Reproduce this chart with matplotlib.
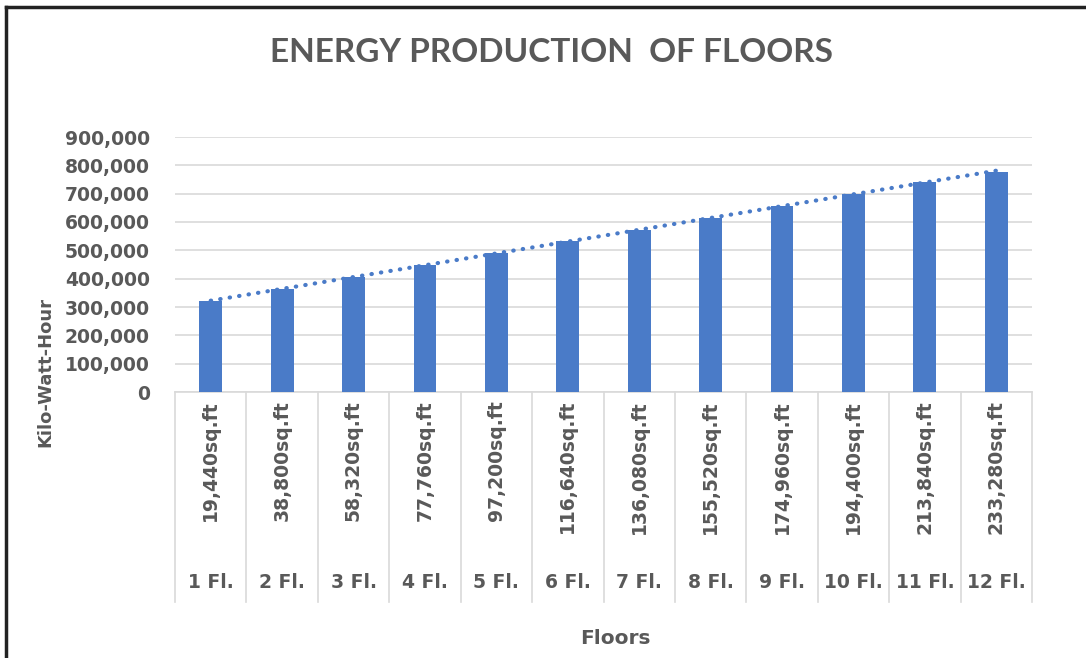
import numpy as np
import matplotlib
matplotlib.use('Agg')
import matplotlib.pyplot as plt

floors = ['1 Fl.', '2 Fl.', '3 Fl.', '4 Fl.', '5 Fl.', '6 Fl.',
          '7 Fl.', '8 Fl.', '9 Fl.', '10 Fl.', '11 Fl.', '12 Fl.']
areas = ['19,440sq.ft', '38,800sq.ft', '58,320sq.ft', '77,760sq.ft',
         '97,200sq.ft', '116,640sq.ft', '136,080sq.ft', '155,520sq.ft',
         '174,960sq.ft', '194,400sq.ft', '213,840sq.ft', '233,280sq.ft']
energy_kwh = [320000, 364000, 407000, 447000, 490000, 532000,
              573000, 614000, 657000, 699000, 740000, 778000]

blue = '#4A7BC8'
grey = '#595959'
grid_col = '#D9D9D9'

plt.rcParams['font.family'] = ['DejaVu Sans']

fig = plt.figure(figsize=(10.86, 6.58), dpi=100)
ax = fig.add_axes([175 / 1086, 1 - 392 / 658, (1032 - 175) / 1086, (392 - 137) / 658])

x = np.arange(1, len(floors) + 1)
ax.bar(x, energy_kwh, width=0.32, color=blue, zorder=3)

# linear trendline
m, c = np.polyfit(x, energy_kwh, 1)
ax.plot(x, m * x + c, linestyle=(0, (0.1, 2.2)), dash_capstyle='round',
        color=blue, linewidth=3, zorder=4)

ax.set_xlim(0.5, len(floors) + 0.5)
ax.set_ylim(0, 900000)
ax.set_yticks(np.arange(0, 900001, 100000))
ax.set_yticklabels([f'{int(v):,}' for v in ax.get_yticks()])
ax.tick_params(axis='y', length=0, labelsize=13.5, labelcolor=grey, pad=18)
for lbl in ax.get_yticklabels():
    lbl.set_fontweight('bold')
ax.set_xticks([])
ax.grid(axis='y', color=grid_col, linewidth=1.2, zorder=0)
for s in ax.spines.values():
    s.set_visible(False)

# multi-level category axis
tr = ax.get_xaxis_transform()
h = 392 - 137
ax.plot([0.5, len(floors) + 0.5], [0, 0], color=grid_col, lw=1.2,
        transform=tr, clip_on=False)
for b in np.arange(0.5, len(floors) + 1, 1):
    ax.plot([b, b], [0, -210 / h], color=grid_col, lw=1.2,
            transform=tr, clip_on=False)
for xi, a, f in zip(x, areas, floors):
    ax.text(xi, -8 / h, a, rotation=90, ha='center', va='top',
            transform=tr, fontsize=13.5, fontweight='bold', color=grey)
    ax.text(xi, -191 / h, f, ha='center', va='center',
            transform=tr, fontsize=13.5, fontweight='bold', color=grey)

fig.text(615 / 1086, 1 - 638 / 658, 'Floors', ha='center', va='center',
         fontsize=14.5, fontweight='bold', color=grey)
fig.text(45 / 1086, 1 - 372 / 658, 'Kilo-Watt-Hour', ha='center', va='center',
         rotation=90, fontsize=13, fontweight='bold', color=grey)
fig.text(551 / 1086, 1 - 53 / 658, 'ENERGY PRODUCTION  OF FLOORS',
         ha='center', va='center', fontsize=24, color=grey,
         family=['Lato', 'DejaVu Sans'], fontweight='bold')

# frame lines (left and top)
fig.add_artist(plt.Line2D([6 / 1086, 6 / 1086], [0, 1 - 7 / 658],
                          transform=fig.transFigure, color='#222222', lw=2.5))
fig.add_artist(plt.Line2D([6 / 1086, 1], [1 - 7 / 658, 1 - 7 / 658],
                          transform=fig.transFigure, color='#222222', lw=2.5))

fig.savefig('out.png', dpi=100)
